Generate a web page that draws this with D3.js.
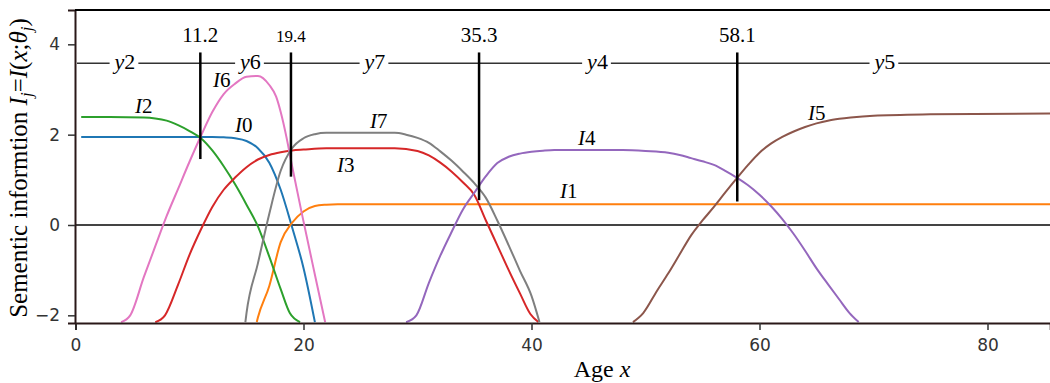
<!DOCTYPE html>
<html>
<head>
<meta charset="UTF-8" />
<script src="https://cdn.jsdelivr.net/npm/d3@7"></script>
<title>Semantic information</title>
<style>
body { margin: 0; background: white; }
svg { display: block; }
</style>
</head>
<body>
<div id="chart"></div>
<script>
// curves I0..I7 as [age, value]
const i0 = [[0.5,1.95],[12,1.95],[13,1.94],[14,1.92],[15,1.86],[16,1.7],[17,1.38],[18,0.78],[19,-0.05],[20,-0.95],[21,-2.15]];
const i1 = [[15.9,-2.15],[16,-2.05],[17,-1.35],[18,-0.38],[19,0.05],[20,0.3],[21,0.42],[22,0.45],[23,0.46],[85.5,0.46]];
const i2 = [[0.5,2.39],[3,2.39],[6,2.38],[7,2.36],[8,2.31],[9,2.21],[10,2.08],[11,1.92],[12,1.65],[13,1.3],[14,0.9],[15,0.45],[16,-0.03],[17,-0.7],[18,-1.42],[18.8,-1.95],[19.7,-2.15]];
const i3 = [[7,-2.15],[7.85,-2.0],[9,-1.32],[10,-0.66],[11,-0.1],[12,0.4],[13,0.78],[14,1.05],[15,1.28],[16,1.45],[17,1.55],[18,1.61],[19,1.65],[20,1.67],[22,1.7],[28,1.7],[30,1.64],[31,1.54],[32,1.38],[33,1.18],[34,0.94],[35,0.66],[36,0.1],[37,-0.45],[38,-1.0],[39,-1.52],[39.9,-1.97],[40.6,-2.15]];
const i4 = [[29,-2.15],[29.9,-2.0],[31,-1.28],[32,-0.68],[33,-0.15],[34,0.35],[35,0.72],[36,1.08],[37,1.37],[38,1.51],[39,1.58],[40,1.62],[41,1.645],[42,1.66],[48,1.66],[50,1.64],[52,1.6],[53,1.55],[54,1.48],[55,1.41],[56,1.33],[57,1.2],[58,1.05],[59,0.88],[60,0.67],[61,0.42],[62,0.13],[63,-0.2],[64,-0.57],[65,-0.96],[66,-1.31],[67,-1.65],[67.9,-1.95],[68.7,-2.15]];
const i5 = [[48.9,-2.15],[49.8,-1.95],[51,-1.46],[52,-1.07],[53,-0.65],[54,-0.23],[55,0.1],[56,0.4],[57,0.72],[58,1.03],[59,1.33],[60,1.6],[61,1.8],[62,1.95],[63,2.07],[64,2.17],[65,2.25],[66,2.31],[67,2.35],[68,2.38],[70,2.42],[75,2.45],[85.5,2.47]];
const i6 = [[4.0,-2.15],[4.8,-2.0],[6,-1.15],[7,-0.47],[8,0.2],[9,0.8],[10,1.4],[11,1.97],[12,2.5],[13,2.9],[14,3.13],[15,3.28],[16,3.3],[17,3.1],[17.6,2.84],[18,2.5],[18.5,1.95],[19,1.3],[20,0.08],[21,-1.1],[21.9,-2.15]];
const i7 = [[14.9,-2.15],[15,-1.95],[16,-0.85],[17,0.25],[18,1.2],[19,1.7],[20,1.92],[21,2.01],[22,2.04],[28,2.04],[29,2.0],[30,1.93],[31,1.82],[32,1.63],[33,1.42],[34,1.18],[35,0.92],[36,0.6],[37,0.1],[38,-0.45],[39,-1.02],[40,-1.57],[40.7,-2.15]];
const series = [i0, i1, i2, i3, i4, i5, i6, i7];
const seriesNames = ["0", "1", "2", "3", "4", "5", "6", "7"];
// where each curve name sits, [age, value]
const nameAt = [[13.99,2.06],[42.5,0.6],[5.22,2.48],[22.94,1.17],[44.08,1.77],[64.25,2.32],[12.06,3.05],[25.83,2.15]];

// dividing ages and the class labels between them
const cutAges = [10.95, 18.9, 35.4, 58.05];
const cutLabels = ["11.2", "19.4", "35.3", "58.1"];
const cutBottoms = [1.46, 1.07, 0.55, 0.52];
const classNames = ["2", "6", "7", "4", "5"];
const classAges = [4.34, 15.35, 26.27, 45.79, 71.0];
const classLevel = 3.58;

const xTicks = [0, 20, 40, 60, 80];
const yTicks = [-2, 0, 2, 4];

const colors = ["#1f77b4", "#ff7f0e", "#2ca02c", "#d62728", "#9467bd", "#8c564b", "#e377c2", "#7f7f7f"];
const w = 1050, h = 383;
const serif = "'Liberation Serif', 'Times New Roman', serif";

const svg = d3.select("#chart").append("svg").attr("width", w).attr("height", h);
const x = d3.scaleLinear().domain([0, 85.5]).range([75.5, 1050.2]);
const y = d3.scaleLinear().domain([-2.17, 4.76]).range([323, 10]);

svg.append("clipPath").attr("id", "plot")
    .append("rect").attr("x", 75).attr("y", 10).attr("width", w - 75).attr("height", 313);

// zero line
svg.append("line")
    .attr("x1", 75).attr("x2", w).attr("y1", y(0)).attr("y2", y(0))
    .attr("stroke", "#444").attr("stroke-width", 2);

const line = d3.line().x(d => x(d[0])).y(d => y(Math.max(d[1], -2.15))).curve(d3.curveMonotoneX);
svg.append("g").attr("clip-path", "url(#plot)")
    .selectAll("path").data(series).enter().append("path")
    .attr("d", line).attr("fill", "none")
    .attr("stroke", (d, i) => colors[i]).attr("stroke-width", 2);

// class line with labels
svg.append("line")
    .attr("x1", 77).attr("x2", w).attr("y1", y(classLevel)).attr("y2", y(classLevel))
    .attr("stroke", "#333").attr("stroke-width", 1.5);
classNames.forEach((n, i) => {
    const t = svg.append("text")
        .attr("x", x(classAges[i])).attr("y", y(classLevel) + 6)
        .attr("text-anchor", "middle")
        .style("font-family", serif).style("font-size", "22px");
    t.append("tspan").style("font-style", "italic").text("y");
    t.append("tspan").text(n);
    const b = t.node().getBBox();
    svg.insert("rect", "text").attr("x", b.x - 3).attr("y", y(classLevel) - 3)
        .attr("width", b.width + 6).attr("height", 6).attr("fill", "white");
});

// dividing lines
cutAges.forEach((a, i) => {
    svg.append("line")
        .attr("x1", x(a)).attr("x2", x(a)).attr("y1", y(3.82)).attr("y2", y(cutBottoms[i]))
        .attr("stroke", "black").attr("stroke-width", 2.5);
    svg.append("text")
        .attr("x", x(a)).attr("y", 42).attr("text-anchor", "middle")
        .style("font-family", serif).style("font-size", i == 1 ? "17px" : "21px")
        .text(cutLabels[i]);
});

// curve names
seriesNames.forEach((n, i) => {
    const t = svg.append("text")
        .attr("x", x(nameAt[i][0])).attr("y", y(nameAt[i][1]))
        .style("font-family", serif).style("font-size", "21px");
    t.append("tspan").style("font-style", "italic").text("I");
    t.append("tspan").text(n);
});

// axes
const xAxis = d3.axisBottom(x).tickValues(xTicks).tickSizeOuter(0).tickSize(7).tickPadding(9);
const yAxis = d3.axisLeft(y).tickValues(yTicks).tickFormat(d3.format("~g"))
    .tickSizeOuter(0).tickSize(7).tickPadding(8);
const gx = svg.append("g").attr("transform", "translate(0," + 323 + ")").call(xAxis);
const gy = svg.append("g").attr("transform", "translate(75,0)").call(yAxis);
[gx, gy].forEach(g => {
    g.select(".domain").attr("stroke", "#2a1818").attr("stroke-width", 2);
    g.selectAll(".tick line").attr("stroke", "#333").attr("stroke-width", 1.5);
    g.selectAll(".tick text").attr("fill", "#333")
        .style("font-family", "'DejaVu Sans', sans-serif").style("font-size", "17px");
});
// top frame
svg.append("line").attr("x1", 75).attr("x2", w).attr("y1", 10).attr("y2", 10)
    .attr("stroke", "black").attr("stroke-width", 2);

// axis titles
const xt = svg.append("text").attr("x", 602).attr("y", 377).attr("text-anchor", "middle")
    .style("font-family", serif).style("font-size", "24px");
xt.append("tspan").text("Age ");
xt.append("tspan").style("font-style", "italic").text("x");

const yt = svg.append("text").attr("transform", "translate(27,168) rotate(-90)")
    .attr("text-anchor", "middle")
    .style("font-family", serif).style("font-size", "25px");
yt.append("tspan").text("Sementic informtion ");
yt.append("tspan").style("font-style", "italic").text("I");
yt.append("tspan").style("font-style", "italic").style("font-size", "17px").attr("dy", 5).text("j");
yt.append("tspan").attr("dy", -5).text("=");
yt.append("tspan").style("font-style", "italic").text("I");
yt.append("tspan").text("(");
yt.append("tspan").style("font-style", "italic").text("x");
yt.append("tspan").text(";");
yt.append("tspan").style("font-style", "italic").text("θ");
yt.append("tspan").style("font-style", "italic").style("font-size", "17px").attr("dy", 5).text("j");
yt.append("tspan").attr("dy", -5).text(")");
</script>
</body>
</html>
